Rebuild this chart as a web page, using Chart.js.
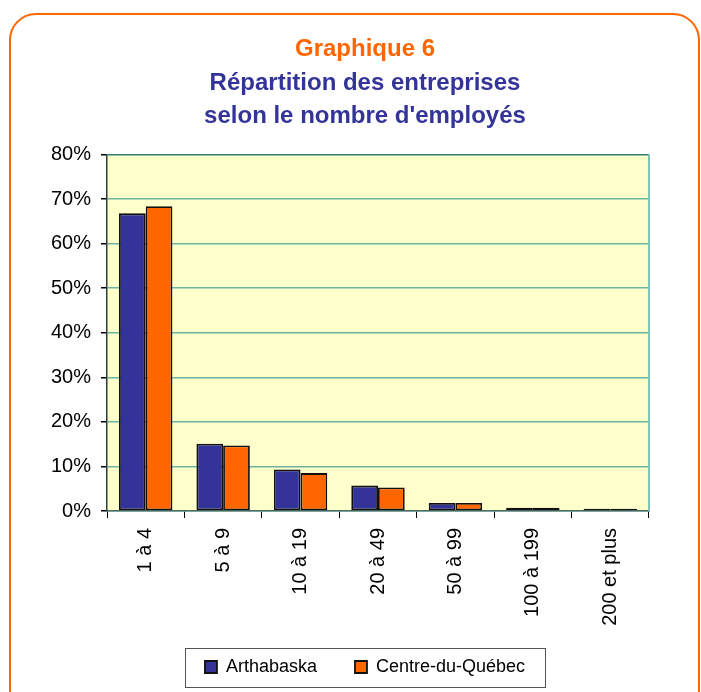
<!DOCTYPE html>
<html lang="fr">
<head>
<meta charset="utf-8">
<title>Graphique 6</title>
<script src="https://cdn.jsdelivr.net/npm/chart.js@4.4.1/dist/chart.umd.min.js"></script>
<style>
  html, body { margin: 0; padding: 0; background: #fff; }
  #wrap { position: relative; width: 701px; height: 692px; }
</style>
</head>
<body>
<div id="wrap"><canvas id="graphique"></canvas></div>
<script>
// Données (en %)
const categories = ["1 à 4", "5 à 9", "10 à 19", "20 à 49", "50 à 99", "100 à 199", "200 et plus"];
const arthabaska = [66.8, 15.1, 9.3, 5.7, 1.8, 0.75, 0.5];
const centreDuQuebec = [68.4, 14.7, 8.5, 5.3, 1.8, 0.75, 0.5];
const yMax = 80;
const yStep = 10;

const police = "'Liberation Sans', Arial, sans-serif";

// fond jaune, cadre orange, bordure droite et cadre de légende
const cadre = {
  id: "cadre",
  beforeDraw(chart) {
    const { ctx, chartArea } = chart;
    ctx.save();
    ctx.fillStyle = "#FFFFCC";
    ctx.fillRect(chartArea.left, chartArea.top, chartArea.right - chartArea.left, chartArea.bottom - chartArea.top);

    const x = 10, y = 14, w = 689, h = 720, r = 26;
    ctx.strokeStyle = "#FF6600";
    ctx.lineWidth = 2;
    ctx.beginPath();
    ctx.moveTo(x + r, y);
    ctx.arcTo(x + w, y, x + w, y + h, r);
    ctx.arcTo(x + w, y + h, x, y + h, r);
    ctx.arcTo(x, y + h, x, y, r);
    ctx.arcTo(x, y, x + w, y, r);
    ctx.closePath();
    ctx.stroke();
    ctx.restore();
  },
  afterDraw(chart) {
    const { ctx, chartArea, legend } = chart;
    ctx.save();
    ctx.strokeStyle = "#7fc4b8";
    ctx.lineWidth = 2;
    ctx.beginPath();
    ctx.moveTo(chartArea.right, chartArea.top);
    ctx.lineTo(chartArea.right, chartArea.bottom);
    ctx.stroke();

    const boxes = legend.legendHitBoxes;
    if (boxes && boxes.length) {
      const first = boxes[0];
      const last = boxes[boxes.length - 1];
      const left = first.left - 20;
      const right = last.left + last.width + 20;
      const top = first.top - 10;
      const bottom = first.top + first.height + 11;
      ctx.strokeStyle = "#555";
      ctx.lineWidth = 1;
      ctx.strokeRect(Math.round(left) + 0.5, Math.round(top) + 0.5, Math.round(right - left), Math.round(bottom - top));
    }
    ctx.restore();
  }
};

// les étiquettes débordent de la boîte de l'axe : pas de découpage
const sansDecoupe = (scale) => { scale._computeLabelArea = () => undefined; };

const ctx = document.getElementById("graphique").getContext("2d");

new Chart(ctx, {
  type: "bar",
  data: {
    labels: categories,
    datasets: [
      {
        label: "Arthabaska",
        data: arthabaska,
        backgroundColor: "#333399",
        borderColor: "#111",
        borderWidth: 1.8,
        borderSkipped: false,
        categoryPercentage: 0.69,
        barPercentage: 1.0,
      },
      {
        label: "Centre-du-Québec",
        data: centreDuQuebec,
        backgroundColor: "#FF6600",
        borderColor: "#111",
        borderWidth: 1.8,
        borderSkipped: false,
        categoryPercentage: 0.69,
        barPercentage: 1.0,
      },
    ],
  },
  options: {
    responsive: true,
    maintainAspectRatio: false,
    animation: false,
    layout: {
      padding: { top: 0, left: 81, right: 52, bottom: 6 },
    },
    plugins: {
      title: {
        display: true,
        text: "Graphique 6",
        color: "#FF6600",
        font: { family: police, size: 24, weight: "bold", lineHeight: 1.396 },
        padding: { top: 33, bottom: 0 },
      },
      subtitle: {
        display: true,
        text: ["Répartition des entreprises", "selon le nombre d'employés"],
        color: "#333399",
        font: { family: police, size: 24, weight: "bold", lineHeight: 1.396 },
        padding: { top: 0, bottom: 21 },
      },
      legend: {
        position: "bottom",
        labels: {
          color: "#000",
          font: { family: police, size: 18 },
          boxWidth: 12,
          boxHeight: 12,
          padding: 38,
        },
      },
      tooltip: { enabled: false },
    },
    scales: {
      x: {
        afterFit: (scale) => { scale.height = 109; sansDecoupe(scale); },
        grid: {
          drawOnChartArea: false,
          offset: true,
          tickLength: 7,
          tickColor: "#000",
        },
        border: { color: "#4a6b63", width: 1.5 },
        ticks: {
          color: "#000",
          font: { family: police, size: 20 },
          minRotation: 90,
          maxRotation: 90,
          padding: 10,
        },
      },
      y: {
        min: 0,
        max: yMax,
        afterFit: (scale) => { scale.width = 26; sansDecoupe(scale); },
        grid: {
          color: (c) => (c.tick && c.tick.value === yMax ? "#2e7f73" : "#6cb5a3"),
          lineWidth: 1.5,
          tickLength: 6,
          tickColor: "#000",
        },
        border: { color: "#2b3f3c", width: 1.5 },
        ticks: {
          stepSize: yStep,
          color: "#000",
          font: { family: police, size: 20 },
          padding: 10,
          callback: (v) => v + "%",
        },
      },
    },
  },
  plugins: [cadre],
});
</script>
</body>
</html>
